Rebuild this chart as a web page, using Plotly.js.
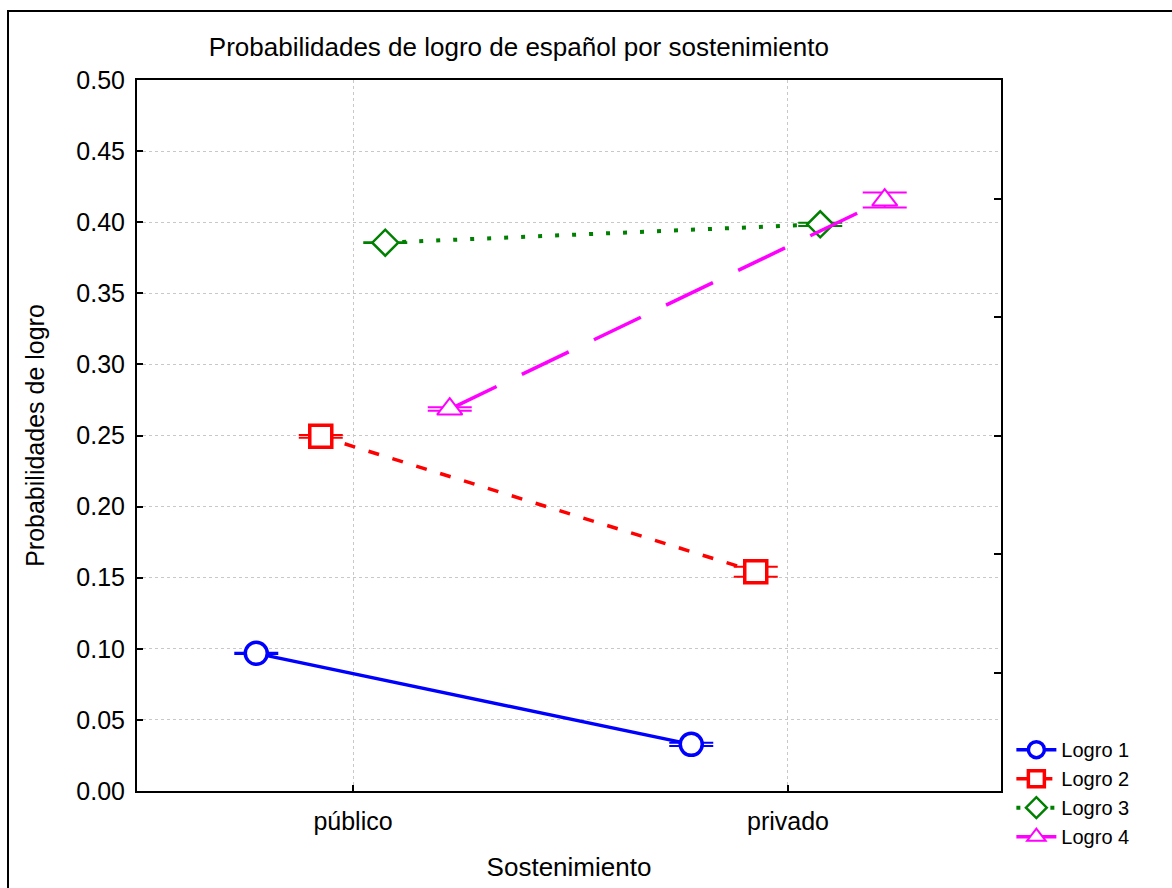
<!DOCTYPE html>
<html>
<head>
<meta charset="utf-8">
<script src="https://cdn.plot.ly/plotly-3.0.1.min.js"></script>
<style>html,body{margin:0;padding:0;background:#fff;}#chart{width:1172px;height:888px;}</style>
</head>
<body>
<div id="chart"></div>
<script>
var categories = ['público', 'privado'];
var seriesNames = ['Logro 1', 'Logro 2', 'Logro 3', 'Logro 4'];
var logro1 = [0.0968, 0.0328];
var logro2 = [0.2494, 0.1542];
var logro3 = [0.3856, 0.3985];
var logro4 = [0.2686, 0.4156];
var err1 = [0.0005, 0.0012];
var err2 = [0.0010, 0.0035];
var err3 = [0.0003, 0.0012];
var err4 = [0.0012, 0.0053];
var yTicks = [0, 0.05, 0.10, 0.15, 0.20, 0.25, 0.30, 0.35, 0.40, 0.45, 0.50];

var values = [logro1, logro2, logro3, logro4];
var errs = [err1, err2, err3, err4];
var colors = ['#0000ff', '#ff0000', '#008000', '#ff00ff'];
var symbols = ['circle', 'square', 'diamond', 'triangle-up'];
var sizes = [22, 22, 20, 22];
var mlw = [3.5, 3.5, 2.5, 2];
var dashes = ['solid', '11px,14px', '4px,13px', '52px,28px'];
var lw = [3.5, 3.5, 4, 3.5];

var traces = values.map(function (v, i) {
  return {
    type: 'scatter', mode: 'lines+markers',
    name: seriesNames[i], x: categories, y: v,
    line: {color: colors[i], width: lw[i], dash: dashes[i]},
    marker: {symbol: symbols[i], size: sizes[i], color: '#ffffff',
             line: {color: colors[i], width: mlw[i]}},
    error_y: {type: 'data', array: errs[i], visible: true, color: colors[i],
              thickness: 2, width: 22}
  };
});
traces.push({type: 'scatter', x: [], y: [], yaxis: 'y2', showlegend: false, hoverinfo: 'skip'});

var font = 'Liberation Sans, Arial, sans-serif';
var layout = {
  width: 1172, height: 888,
  margin: {l: 137, r: 171, t: 80, b: 97},
  paper_bgcolor: '#ffffff', plot_bgcolor: '#ffffff',
  font: {family: font, color: '#000000', size: 25},
  scattermode: 'group', scattergap: 0.407,
  showlegend: true,
  title: {text: 'Probabilidades de logro de español por sostenimiento',
          font: {size: 26, family: font, color: '#000'},
          xref: 'paper', x: 0.442, xanchor: 'center', y: 0.947, yanchor: 'middle'},
  xaxis: {type: 'category', range: [-0.4966, 1.4897],
          showline: true, linecolor: '#000', linewidth: 2, mirror: true,
          ticks: 'inside', ticklen: 6, tickwidth: 2, tickcolor: '#000',
          showgrid: true, gridcolor: '#c8c8c8', griddash: 'dot', gridwidth: 1,
          zeroline: false, tickfont: {size: 25}, ticklabelstandoff: 7,
          title: {text: 'Sostenimiento', font: {size: 26}, standoff: 24}},
  yaxis: {range: [0, 0.5], tickvals: yTicks, tickformat: '.2f',
          showline: true, linecolor: '#000', linewidth: 2, mirror: true,
          ticks: 'inside', ticklen: 6, tickwidth: 2, tickcolor: '#000',
          showgrid: true, gridcolor: '#c8c8c8', griddash: 'dot', gridwidth: 1,
          zeroline: false, tickfont: {size: 25}, ticklabelstandoff: 5,
          title: {text: 'Probabilidades de logro', font: {size: 25}, standoff: 25}},
  yaxis2: {overlaying: 'y', side: 'right', range: [0, 6], dtick: 1,
           ticks: 'inside', ticklen: 7, tickwidth: 2, tickcolor: '#000',
           showticklabels: false, showgrid: false, zeroline: false, showline: false},
  legend: {x: 1.012, xanchor: 'left', y: -0.003, yanchor: 'middle',
           font: {size: 20}, tracegroupgap: 0, itemwidth: 40,
           bgcolor: 'rgba(0,0,0,0)'},
  shapes: [{type: 'rect', xref: 'paper', yref: 'paper',
            x0: -0.1493, x1: 2, y0: -1, y1: 1.0970,
            line: {color: '#000', width: 2}, fillcolor: 'rgba(0,0,0,0)', layer: 'above'}]
};
Plotly.newPlot('chart', traces, layout, {displayModeBar: false, staticPlot: true});
</script>
</body>
</html>
